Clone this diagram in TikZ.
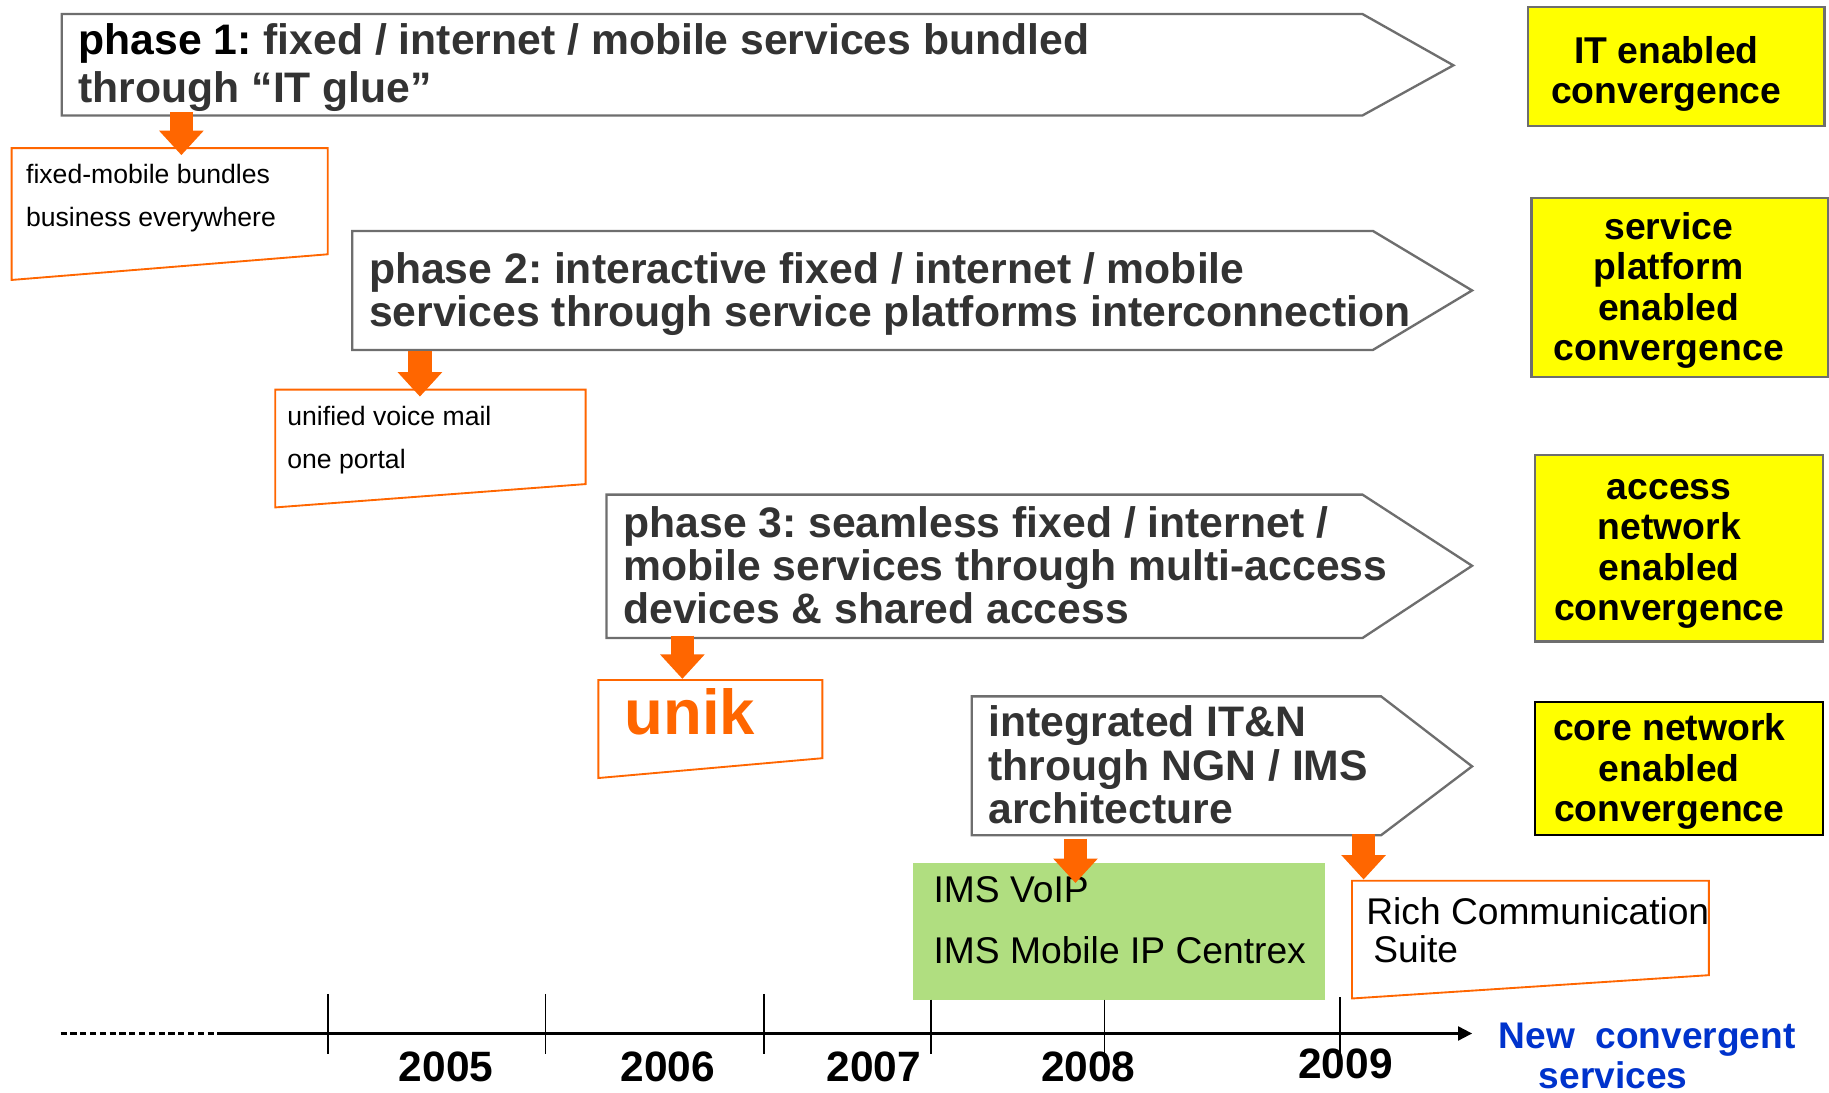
\documentclass[tikz,border=0pt]{standalone}
\usepackage{fontspec}
\setmainfont{Liberation Sans}
\usetikzlibrary{arrows.meta}
\frenchspacing
\definecolor{darktxt}{HTML}{333333}
\definecolor{phasegray}{HTML}{6E6E6E}
\definecolor{orng}{HTML}{FF6600}
\definecolor{grn}{HTML}{B0DE80}
\definecolor{blu}{HTML}{0033CC}
\definecolor{yel}{HTML}{FFFF00}
\tikzset{
  phaseshape/.style={draw=phasegray,line width=1pt,fill=white},
  phasetext/.style={anchor=north west,inner sep=0pt,align=left,text=darktxt,
    font=\fontsize{18.3}{18.5}\selectfont\bfseries},
  yellowbox/.style={draw=phasegray,line width=1pt,fill=yel,inner sep=0pt},
  yellowtext/.style={align=center,inner sep=0pt,font=\fontsize{16}{17.3}\selectfont\bfseries},
  callout/.style={draw=orng,line width=0.8pt,fill=white},
  smalltext/.style={anchor=north west,inner sep=0pt,align=left,
    font=\fontsize{11.4}{18.5}\selectfont},
  bigtext/.style={anchor=north west,inner sep=0pt,align=left,
    font=\fontsize{15.95}{26.2}\selectfont},
  blockarrow/.style={draw=orng,line width=10pt,-{Triangle[length=10.5pt,width=18.5pt]},shorten >=0pt},
  yeartext/.style={anchor=base,inner sep=0pt,font=\fontsize{18.2}{20}\selectfont\bfseries},
  bluetext/.style={anchor=base,inner sep=0pt,text=blu,font=\fontsize{15.9}{18}\selectfont\bfseries},
  tickline/.style={black,line width=0.7pt},
}
\begin{document}
\begin{tikzpicture}[x=0.5pt,y=-0.5pt]
\useasboundingbox (0,0) rectangle (1568,937);
% phase chevrons
\draw[phaseshape] (53,12) -- (1168,12) -- (1246,56) -- (1168,99) -- (53,99) -- cycle;
\draw[phaseshape] (302,198) -- (1177,198) -- (1262,249) -- (1177,300) -- (302,300) -- cycle;
\draw[phaseshape] (520,424) -- (1168,424) -- (1262,485) -- (1168,547) -- (520,547) -- cycle;
\draw[phaseshape] (833,597) -- (1184,597) -- (1262,657) -- (1184,716) -- (833,716) -- cycle;
\node[phasetext,font=\fontsize{18.3}{20.8}\selectfont\bfseries] (p1) at (67,19.5) {\textcolor{black}{phase 1:} fixed / internet / mobile services bundled\\through “IT glue”};
\node[phasetext] (p2) at (316,215.8) {phase 2: interactive fixed / internet / mobile\\services through service platforms interconnection};
\node[phasetext] (p3) at (534,433.8) {phase 3: seamless fixed / internet /\\mobile services through multi-access\\devices \& shared access};
\node[phasetext] (p4) at (847,604.8) {integrated IT\&N\\through NGN / IMS\\architecture};
% yellow boxes
\node[yellowbox,minimum width=127pt,minimum height=51pt] (y1) at (1437,57) {};
\node[yellowbox,minimum width=127pt,minimum height=76.5pt] (y2) at (1440,246.5) {};
\node[yellowbox,minimum width=123.5pt,minimum height=80pt] (y3) at (1439.5,470) {};
\node[yellowbox,draw=black,minimum width=123.5pt,minimum height=57pt] (y4) at (1439.5,659) {};
\node[yellowtext] (yt1) at (1428.5,63.5) {IT enabled\\convergence};
\node[yellowtext] (yt2) at (1430.5,249) {service\\platform\\enabled\\convergence};
\node[yellowtext] (yt3) at (1431,475) {access\\network\\enabled\\convergence};
\node[yellowtext] (yt4) at (1431,661.5) {core network\\enabled\\convergence};
% callouts
\draw[callout] (10,127) -- (281,127) -- (281,218) -- (10,240) -- cycle;
\draw[callout] (236,334) -- (502,334) -- (502,415) -- (236,435) -- cycle;
\draw[callout] (513,583) -- (705,583) -- (705,650) -- (513,667) -- cycle;
\draw[callout] (1159,755) -- (1465,755) -- (1465,836) -- (1159,856) -- cycle;
\node[smalltext] (c1) at (22,140) {fixed-mobile bundles\\business everywhere};
\node[smalltext] (c2) at (246,347.5) {unified voice mail\\one portal};
\node[anchor=north west,inner sep=0pt,text=orng,font=\fontsize{27.2}{30}\selectfont\bfseries] (c3) at (535,590) {unik};
\node[anchor=north west,inner sep=0pt,align=left,font=\fontsize{15.93}{16.3}\selectfont] (c5) at (1171,769) {Rich Communication\\ \hspace*{3pt}Suite};
% green box
\node[draw=none,fill=grn,minimum width=176.5pt,minimum height=58.5pt,inner sep=0pt] (g) at (959.5,798.5) {};
\node[bigtext] (gt) at (800,751) {IMS VoIP\\IMS Mobile IP Centrex};
% block arrows
\coordinate (a1s) at (155.5,96);  \coordinate (a1e) at (155.5,133);
\coordinate (a2s) at (360,301);   \coordinate (a2e) at (360,340);
\coordinate (a3s) at (585,545);   \coordinate (a3e) at (585,582);
\coordinate (a4s) at (922,719);   \coordinate (a4e) at (922,757);
\coordinate (a5s) at (1169,715);  \coordinate (a5e) at (1169,754);
\draw[blockarrow] (a1s) -- (a1e);
\draw[blockarrow] (a2s) -- (a2e);
\draw[blockarrow] (a3s) -- (a3e);
\draw[blockarrow] (a4s) -- (a4e);
\draw[blockarrow] (a5s) -- (a5e);
% timeline
\coordinate (t0) at (52,886); \coordinate (t1) at (190,886); \coordinate (t2) at (1262,886);
\draw[black,line width=1pt,dash pattern=on 2.6pt off 1.6pt] (t0) -- (t1);
\draw[black,line width=0.9pt,-{Triangle[length=6pt,width=6pt]}] (t1) -- (t2);
\foreach \n/\x/\a/\b in {a/281/852/904,b/467.5/852/904,c/655/852/904,d/798/857/904,e/947/857/906,f/1149/855/906}{
  \coordinate (tt\n) at (\x,\a); \coordinate (tb\n) at (\x,\b);
  \draw[tickline] (tt\n) -- (tb\n);
}
\node[yeartext] (y05) at (382.5,927.5) {2005};
\node[yeartext] (y06) at (572.5,927.5) {2006};
\node[yeartext] (y07) at (749,927.5) {2007};
\node[yeartext] (y08) at (933,927.5) {2008};
\node[yeartext] (y09) at (1153.5,924.5) {2009};
\node[bluetext] (n1) at (1412,899) {New\ \ convergent};
\node[bluetext] (n2) at (1383,933.5) {services};
\end{tikzpicture}
\end{document}
